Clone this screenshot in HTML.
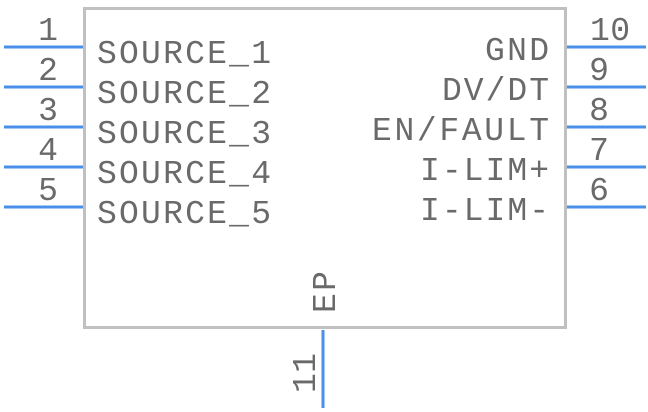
<!DOCTYPE html>
<html><head><style>body{margin:0;background:#fff}svg{display:block}</style></head><body>
<svg width="648" height="412" xmlns="http://www.w3.org/2000/svg" font-family="Liberation Mono, monospace" fill="#6a6a6a" font-size="33">
<rect x="84.5" y="8.5" width="481" height="319" fill="none" stroke="#c0c0c0" stroke-width="3"/>
<g stroke="#4a8fe8" stroke-width="3">
<line x1="4" y1="47" x2="83" y2="47"/><line x1="4" y1="87" x2="83" y2="87"/><line x1="4" y1="127" x2="83" y2="127"/><line x1="4" y1="167" x2="83" y2="167"/><line x1="4" y1="207" x2="83" y2="207"/>
<line x1="567" y1="47" x2="646" y2="47"/><line x1="567" y1="87" x2="646" y2="87"/><line x1="567" y1="127" x2="646" y2="127"/><line x1="567" y1="167" x2="646" y2="167"/><line x1="567" y1="207" x2="646" y2="207"/>
<line x1="323" y1="330" x2="323" y2="408"/>
</g>
<g text-anchor="middle">
<text x="48" y="40">1</text><text x="48" y="80">2</text><text x="48" y="120">3</text><text x="48" y="160">4</text><text x="48" y="200">5</text>
<text x="610" y="40" textLength="40">10</text><text x="599" y="80">9</text><text x="599" y="120">8</text><text x="599" y="160">7</text><text x="599" y="200">6</text>
</g>
<g>
<text x="97" y="63" textLength="174">SOURCE_1</text>
<text x="97" y="103" textLength="174">SOURCE_2</text>
<text x="97" y="143" textLength="174">SOURCE_3</text>
<text x="97" y="183" textLength="174">SOURCE_4</text>
<text x="97" y="223" textLength="174">SOURCE_5</text>
</g>
<g>
<text x="485" y="60" textLength="64">GND</text>
<text x="442" y="100" textLength="107">DV/DT</text>
<text x="372" y="140" textLength="177">EN/FAULT</text>
<text x="420" y="180" textLength="129">I-LIM+</text>
<text x="420" y="220" textLength="129">I-LIM-</text>
</g>
<text transform="translate(335,313) rotate(-90)" textLength="42">EP</text>
<text transform="translate(315,393) rotate(-90)" textLength="40">11</text>
</svg>
</body></html>
